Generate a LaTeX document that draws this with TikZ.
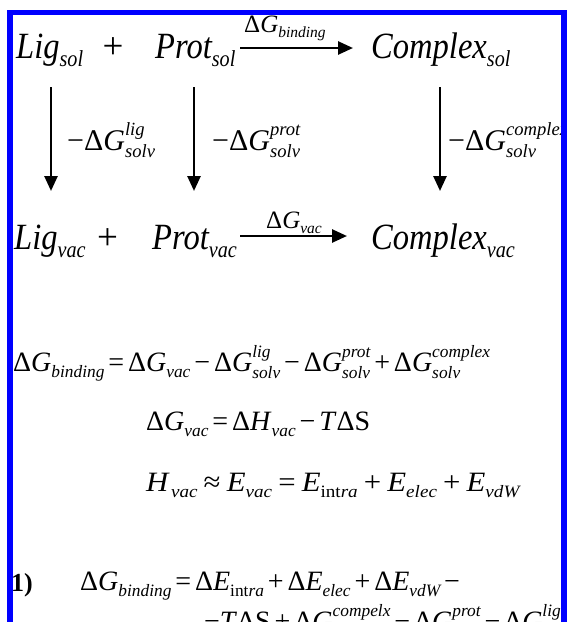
\documentclass[tikz,border=0pt]{standalone}
\usepackage{fontspec}
\setmainfont{Liberation Serif}
\usepackage{graphicx}
\usetikzlibrary{arrows.meta}
\newcommand\SB[1]{\raisebox{-.22em}{\scalebox{.62}{\itshape #1}}}
\newcommand\SBB[1]{\raisebox{-.22em}{\scalebox{.62}{#1}}}
\newcommand\SPB[2]{%
  \setbox0=\hbox{\scalebox{.62}{\itshape #1}}%
  \setbox2=\hbox{\scalebox{.62}{\itshape #2}}%
  \ifdim\wd0>\wd2 \dimen0=\wd0 \else \dimen0=\wd2 \fi
  \rlap{\raisebox{.5em}{\box0}}\rlap{\raisebox{-.25em}{\box2}}\hspace{\dimen0}}
\newcommand\op[1]{\hspace{.14em}#1\hspace{.14em}}
\newcommand\opw[1]{\hspace{.2em}#1\hspace{.2em}}
\tikzset{
  big/.style={inner sep=0pt, anchor=base west, font=\fontsize{37}{37}\selectfont},
  mid/.style={inner sep=0pt, anchor=base west, font=\fontsize{25}{25}\selectfont},
  lab/.style={inner sep=0pt, anchor=base west, font=\fontsize{30}{30}\selectfont},
  eqn/.style={inner sep=0pt, anchor=base west, font=\fontsize{28}{28}\selectfont},
  arr/.style={line width=2.6pt, -{Triangle[length=15pt,width=13pt]}},
  bar/.style={fill={rgb,255:red,0;green,0;blue,255}, draw=none}
}
\begin{document}
\begin{tikzpicture}[x=1pt,y=-1pt]
\clip (0,0) rectangle (567,622);
\fill[white] (0,0) rectangle (567,622);
% row 1
\node[big] (lig1) at (16,58) {\scalebox{.88}[1]{\itshape Lig\SB{sol}}};
\node[big, anchor=base] (plus1) at (113,58) {+};
\node[big] (prot1) at (155,58) {\scalebox{.88}[1]{\itshape Prot\SB{sol}}};
\node[big] (cplx1) at (371,58) {\scalebox{.88}[1]{\itshape Complex\SB{sol}}};
\node[mid] (lb1) at (244,32) {Δ\textit{G}\SB{binding}};
\coordinate (h1a) at (240,48);
\coordinate (h1b) at (353,48);
\draw[arr] (h1a) -- (h1b);
% vertical arrows
\coordinate (v1a) at (51,87);  \coordinate (v1b) at (51,191);
\coordinate (v2a) at (194,87); \coordinate (v2b) at (194,191);
\coordinate (v3a) at (440,87); \coordinate (v3b) at (440,191);
\draw[arr] (v1a) -- (v1b);
\draw[arr] (v2a) -- (v2b);
\draw[arr] (v3a) -- (v3b);
\node[lab] (s1) at (67,150) {−Δ\textit{G}\SPB{lig}{solv}};
\node[lab] (s2) at (212,150) {−Δ\textit{G}\SPB{prot}{solv}};
\node[lab] (s3) at (448,150) {−Δ\textit{G}\SPB{complex}{solv}};
% row 3
\node[big] (lig3) at (14,249) {\scalebox{.88}[1]{\itshape Lig\SB{vac}}};
\node[big, anchor=base] (plus3) at (107.5,249) {+};
\node[big] (prot3) at (152,249) {\scalebox{.88}[1]{\itshape Prot\SB{vac}}};
\node[big] (cplx3) at (371,249) {\scalebox{.88}[1]{\itshape Complex\SB{vac}}};
\node[mid] (lb3) at (266,228) {Δ\textit{G}\SB{vac}};
\coordinate (h3a) at (240,236);
\coordinate (h3b) at (347,236);
\draw[arr] (h3a) -- (h3b);
% equations
\node[eqn] (e1) at (13,371) {Δ\textit{G}\SB{binding}\op{=}Δ\textit{G}\SB{vac}\op{−}Δ\textit{G}\SPB{lig}{solv}\op{−}Δ\textit{G}\SPB{prot}{solv}\op{+}Δ\textit{G}\SPB{complex}{solv}};
\node[eqn] (e2) at (146,430) {Δ\textit{G}\SB{vac}\op{=}Δ\textit{H}\SB{vac}\op{−}\textit{T}ΔS};
\node[eqn] (e3) at (146,491) {\scalebox{1.1}[1]{\textit{H}\hspace{.04em}\SB{vac}\opw{≈}\textit{E}\SB{vac}\opw{=}\textit{E}\SBB{int\textit{ra}}\opw{+}\textit{E}\SB{elec}\opw{+}\textit{E}\SB{vdW}}};
\node[eqn, font=\fontsize{26}{26}\bfseries] (n1) at (11,591) {1)};
\node[eqn] (e4) at (80,590) {Δ\textit{G}\SB{binding}\op{=}Δ\textit{E}\SBB{int\textit{ra}}\op{+}Δ\textit{E}\SB{elec}\op{+}Δ\textit{E}\SB{vdW}\op{−}};
\node[eqn] (e5) at (204,630) {−\textit{T}ΔS\op{+}Δ\textit{G}\SPB{compelx}{solv}\op{−}Δ\textit{G}\SPB{prot}{solv}\op{−}Δ\textit{G}\SPB{lig}{solv}};
% frame
\fill[bar] (7,10) rectangle (13,622);
\fill[bar] (7,10) rectangle (567,15);
\fill[bar] (560.5,10) rectangle (567,622);
\end{tikzpicture}
\end{document}
